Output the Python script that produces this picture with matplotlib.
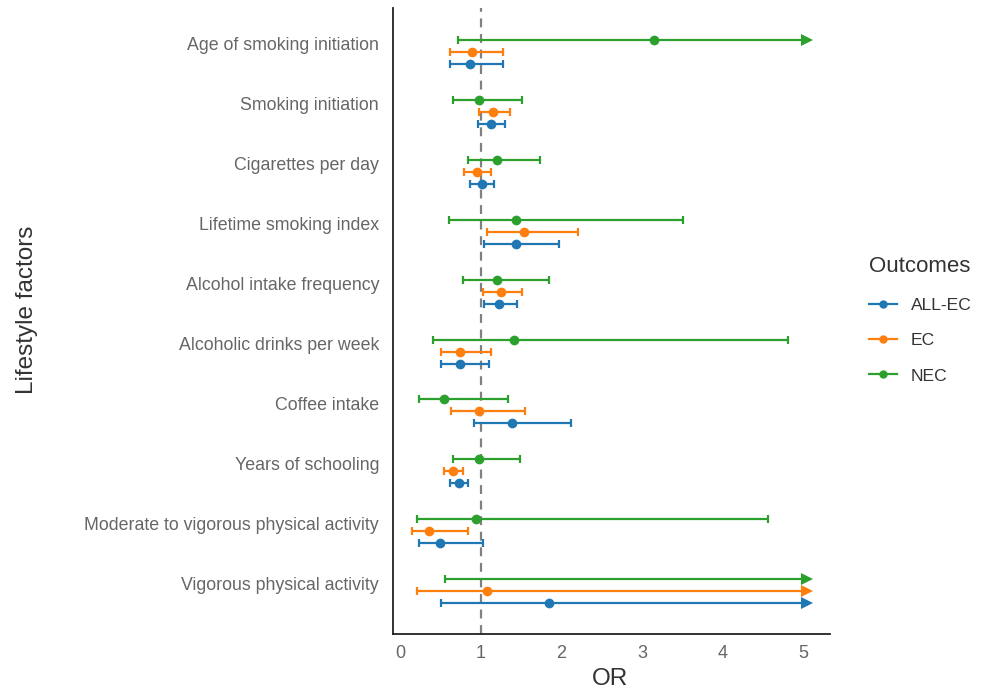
import numpy as np
import matplotlib
matplotlib.use("Agg")
import matplotlib.pyplot as plt
from matplotlib.lines import Line2D

plt.rcParams['font.family'] = ['Liberation Sans', 'DejaVu Sans']

factors = ["Age of smoking initiation", "Smoking initiation", "Cigarettes per day",
           "Lifetime smoking index", "Alcohol intake frequency", "Alcoholic drinks per week",
           "Coffee intake", "Years of schooling", "Moderate to vigorous physical activity",
           "Vigorous physical activity"]

outcomes = ["ALL-EC", "EC", "NEC"]
colors = {"ALL-EC": "#1f77b4", "EC": "#ff7f0e", "NEC": "#2ca02c"}

# OR estimates and 95% CI (inf = beyond plotted range)
inf = np.inf
or_all = [0.87, 1.13, 1.01, 1.43, 1.22, 0.74, 1.39, 0.73, 0.49, 1.84]
lo_all = [0.62, 0.97, 0.87, 1.04, 1.04, 0.50, 0.91, 0.61, 0.23, 0.50]
hi_all = [1.27, 1.30, 1.16, 1.97, 1.45, 1.10, 2.12, 0.84, 1.03, inf]

or_ec = [0.89, 1.15, 0.95, 1.54, 1.25, 0.74, 0.98, 0.65, 0.35, 1.08]
lo_ec = [0.62, 0.98, 0.79, 1.08, 1.02, 0.50, 0.63, 0.54, 0.15, 0.20]
hi_ec = [1.27, 1.36, 1.12, 2.20, 1.51, 1.12, 1.55, 0.78, 0.84, inf]

or_nec = [3.15, 0.98, 1.20, 1.43, 1.20, 1.41, 0.54, 0.98, 0.94, inf]
lo_nec = [0.72, 0.65, 0.84, 0.60, 0.78, 0.41, 0.23, 0.65, 0.20, 0.55]
hi_nec = [inf, 1.51, 1.73, 3.51, 1.85, 4.81, 1.34, 1.49, 4.57, inf]

data = {"ALL-EC": (or_all, lo_all, hi_all),
        "EC": (or_ec, lo_ec, hi_ec),
        "NEC": (or_nec, lo_nec, hi_nec)}
offsets = {"ALL-EC": -0.335, "EC": -0.135, "NEC": 0.065}
xmax_clip = 5.1

fig = plt.figure(figsize=(9.88, 6.93), dpi=100)
ax = fig.add_axes([393/988, 1-634/693, (830-393)/988, (634-8)/693])

n = len(factors)
ypos = np.arange(n)[::-1]  # first factor at top

ax.axvline(1, color="#808080", linestyle=(0, (4, 3)), linewidth=1.6, zorder=1)

for oc in outcomes:
    est, lo, hi = data[oc]
    c = colors[oc]
    for i in range(n):
        y = ypos[i] + offsets[oc]
        h = hi[i]
        clipped = not np.isfinite(h) or h > xmax_clip
        end = 5.03 if clipped else h
        ax.plot([lo[i], end], [y, y], color=c, lw=1.6, solid_capstyle='butt', zorder=2)
        ax.plot([lo[i]], [y], marker='|', color=c, ms=6, mew=1.6, zorder=2)
        if clipped:
            ax.plot([5.055], [y], marker='>', color=c, ms=8, mew=0, zorder=3)
        else:
            ax.plot([h], [y], marker='|', color=c, ms=6, mew=1.6, zorder=2)
        if np.isfinite(est[i]) and est[i] <= xmax_clip:
            ax.plot([est[i]], [y], marker='o', color=c, ms=7, mew=0, zorder=4)

x0px, ppu = 400.4, 80.5
ax.set_xlim((393 - x0px) / ppu, (830 - x0px) / ppu)
ax.set_ylim(-51/59.9, 9 + 36/59.9)
ax.set_xticks([0, 1, 2, 3, 4, 5])
ax.set_yticks(ypos)
ax.set_yticklabels(factors)
ax.tick_params(axis='both', length=0, labelcolor="#666666")
ax.tick_params(axis='y', pad=10, labelsize=12.8)
ax.tick_params(axis='x', pad=8, labelsize=13)
for s in ["top", "right"]:
    ax.spines[s].set_visible(False)
for s in ["left", "bottom"]:
    ax.spines[s].set_color("#222222")
    ax.spines[s].set_linewidth(1.3)

ax.set_xlabel("OR", fontsize=17.5, color="#333333")
ax.xaxis.set_label_coords((610 - 393) / 437, -(679 - 634) / 626)
ax.xaxis.label.set_va("center")
ax.set_ylabel("Lifestyle factors", fontsize=17.5, color="#333333")
ax.yaxis.set_label_coords((27 - 393) / 437, (634 - 309.5) / 626)
ax.yaxis.label.set_va("center")

handles = [Line2D([0], [0], color=colors[o], lw=1.6, marker='o', ms=5) for o in outcomes]
leg = fig.legend(handles, outcomes, title="Outcomes", loc="center left",
                 bbox_to_anchor=(853/988, 1-320/693), frameon=False,
                 fontsize=12.6, title_fontsize=16, handlelength=1.6,
                 labelspacing=1.15, handletextpad=0.8)
leg.get_title().set_color("#333333")
leg._legend_box.align = "left"
for t in leg.get_texts():
    t.set_color("#333333")

fig.savefig("out.png", dpi=100)
